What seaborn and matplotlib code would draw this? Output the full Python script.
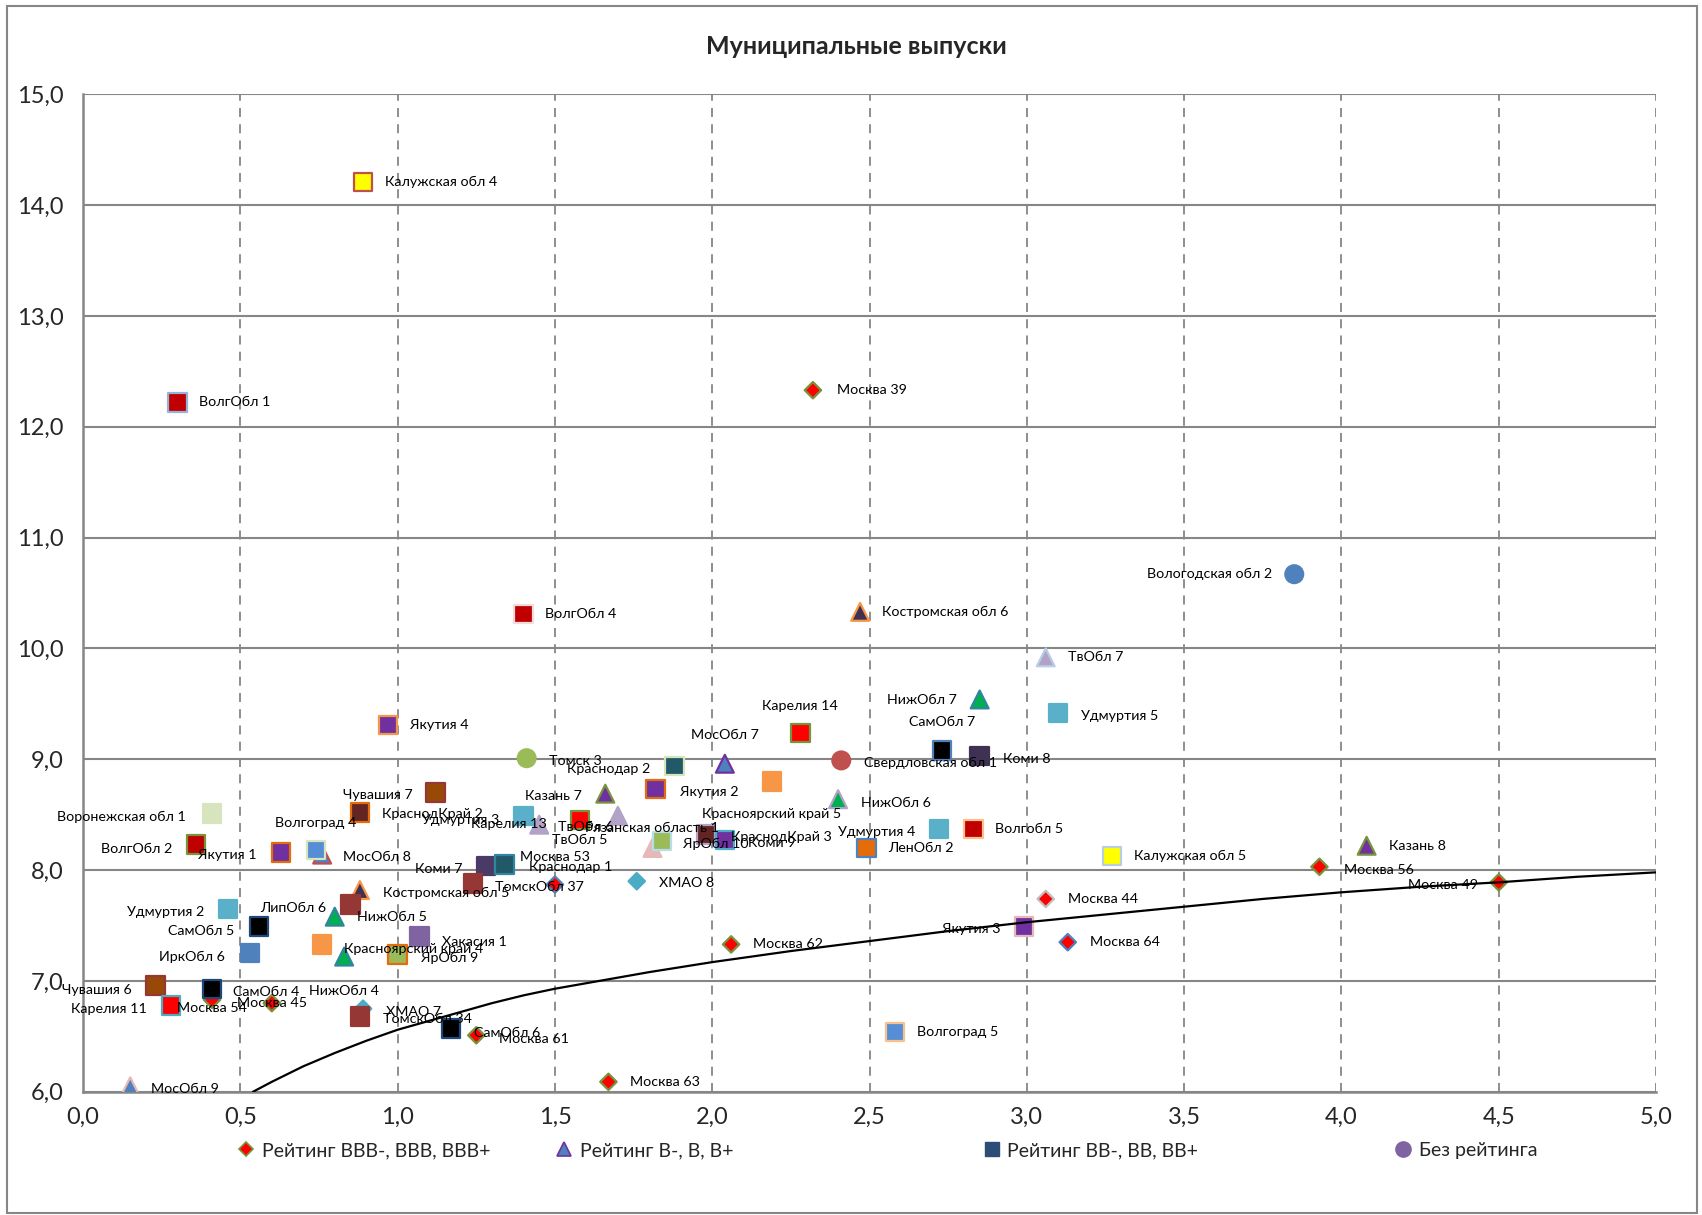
import numpy as np
import matplotlib.pyplot as plt
import matplotlib.ticker as mticker
from matplotlib.lines import Line2D
from matplotlib.patches import Rectangle
import pandas as pd
import seaborn as sns

# Рейтинг BBB-, BBB, BBB+ (ромбы)
bbb_names = ["Москва 39", "Москва 56", "Москва 49", "Москва 44", "Москва 64", "Москва 62",
             "Москва 53", "ХМАО 8", "ХМАО 7", "Москва 45", "Москва 54", "Москва 61", "Москва 63"]
bbb_x = [2.32, 3.93, 4.50, 3.06, 3.13, 2.06, 1.50, 1.76, 0.89, 0.60, 0.41, 1.25, 1.67]
bbb_y = [12.33, 8.03, 7.89, 7.74, 7.35, 7.33, 7.87, 7.90, 6.75, 6.80, 6.83, 6.51, 6.09]

# Рейтинг B-, B, B+ (треугольники)
b_names = ["Костромская обл 6", "ТвОбл 7", "НижОбл 7", "МосОбл 7", "НижОбл 6", "Казань 7",
           "ТвОбл 6", "Карелия 13", "Рязанская область 1", "МосОбл 8", "Костромская обл 5",
           "НижОбл 5", "НижОбл 4", "Казань 8", "МосОбл 9"]
b_x = [2.47, 3.06, 2.85, 2.04, 2.40, 1.66, 1.70, 1.45, 1.81, 0.76, 0.88, 0.80, 0.83, 4.08, 0.15]
b_y = [10.33, 9.92, 9.54, 8.96, 8.64, 8.69, 8.49, 8.41, 8.20, 8.14, 7.82, 7.58, 7.22, 8.22, 6.05]

# Рейтинг BB-, BB, BB+ (квадраты)
bb_names = ["Калужская обл 4", "ВолгОбл 1", "ВолгОбл 4", "Якутия 4", "Карелия 14", "Краснодар 2",
            "Якутия 2", "Красноярский край 5", "СамОбл 7", "Коми 8", "Удмуртия 5", "Удмуртия 4",
            "Волгобл 5", "ЛенОбл 2", "Калужская обл 5", "Волгоград 5", "Якутия 3", "ЯрОбл 10",
            "КраснодКрай 3", "Коми 9", "ТвОбл 5", "Удмуртия 3", "КраснодКрай 2", "Чувашия 7",
            "Воронежская обл 1", "ВолгОбл 2", "Якутия 1", "Волгоград 4", "Коми 7", "Краснодар 1",
            "ТомскОбл 37", "ЛипОбл 6", "Хакасия 1", "ЯрОбл 9", "Красноярский край 4", "Удмуртия 2",
            "СамОбл 5", "ИркОбл 6", "Чувашия 6", "Карелия 11", "СамОбл 4", "ТомскОбл 34", "СамОбл 6"]
bb_x = [0.89, 0.30, 1.40, 0.97, 2.28, 1.88, 1.82, 2.19, 2.73, 2.85, 3.10, 2.72,
        2.83, 2.49, 3.27, 2.58, 2.99, 1.84, 1.98, 2.04, 1.58, 1.40, 0.88, 1.12,
        0.41, 0.36, 0.63, 0.74, 1.28, 1.34, 1.24, 0.85, 1.07, 1.00, 0.76, 0.46,
        0.56, 0.53, 0.23, 0.28, 0.41, 0.88, 1.17]
bb_y = [14.21, 12.22, 10.31, 9.31, 9.24, 8.94, 8.73, 8.80, 9.08, 9.03, 9.42, 8.37,
        8.37, 8.20, 8.13, 6.54, 7.49, 8.26, 8.32, 8.27, 8.45, 8.49, 8.52, 8.70,
        8.51, 8.23, 8.16, 8.18, 8.04, 8.05, 7.88, 7.69, 7.40, 7.24, 7.33, 7.65,
        7.49, 7.25, 6.96, 6.78, 6.93, 6.68, 6.57]

# Без рейтинга (круги)
nr_names = ["Томск 3", "Свердловская обл 1", "Вологодская обл 2"]
nr_x = [1.41, 2.41, 3.85]
nr_y = [9.01, 8.99, 10.67]

# кривая доходности
curve_x = [0.54, 0.60, 0.70, 0.80, 0.90, 1.00, 1.10, 1.20, 1.30, 1.40, 1.50, 1.60, 1.70, 1.80,
           2.00, 2.25, 2.50, 2.75, 3.00, 3.25, 3.50, 3.75, 4.00, 4.25, 4.50, 4.75, 5.00]
curve_y = [6.00, 6.09, 6.23, 6.35, 6.46, 6.56, 6.64, 6.72, 6.80, 6.87, 6.93, 6.98, 7.03, 7.08,
           7.17, 7.27, 7.36, 7.45, 7.53, 7.60, 7.67, 7.74, 7.80, 7.85, 7.89, 7.94, 7.98]

legend_labels = ["Рейтинг BBB-, BBB, BBB+", "Рейтинг B-, B, B+", "Рейтинг BB-, BB, BB+", "Без рейтинга"]

# цвета точек: заливка, обводка
face = {
    "ХМАО 8": "#4BACC6", "ХМАО 7": "#4BACC6",
    "Костромская обл 6": "#403152", "ТвОбл 7": "#B3A2C7", "НижОбл 7": "#00B050", "МосОбл 7": "#4F81BD",
    "НижОбл 6": "#00B050", "Казань 7": "#7030A0", "ТвОбл 6": "#B3A2C7", "Карелия 13": "#B3A2C7",
    "Рязанская область 1": "#E6B9B8", "МосОбл 8": "#4F81BD", "Костромская обл 5": "#403152",
    "НижОбл 5": "#00B050", "НижОбл 4": "#00B050", "Казань 8": "#7030A0", "МосОбл 9": "#4F81BD",
    "Калужская обл 4": "#FFFF00", "ВолгОбл 1": "#C00000", "ВолгОбл 4": "#C00000", "Якутия 4": "#7030A0",
    "Карелия 14": "#FF0000", "Краснодар 2": "#215968", "Якутия 2": "#7030A0",
    "Красноярский край 5": "#F79646", "СамОбл 7": "#000000", "Коми 8": "#3F3151",
    "Удмуртия 5": "#5AB0C8", "Удмуртия 4": "#5AB0C8", "Волгобл 5": "#C00000", "ЛенОбл 2": "#E46C0A",
    "Калужская обл 5": "#FFFF00", "Волгоград 5": "#558ED5", "Якутия 3": "#7030A0", "ЯрОбл 10": "#9BBB59",
    "КраснодКрай 3": "#632523", "Коми 9": "#7030A0", "ТвОбл 5": "#FF0000", "Удмуртия 3": "#5AB0C8",
    "КраснодКрай 2": "#632523", "Чувашия 7": "#984807", "Воронежская обл 1": "#D7E4BD",
    "ВолгОбл 2": "#C00000", "Якутия 1": "#7030A0", "Волгоград 4": "#558ED5", "Коми 7": "#4A3B66",
    "Краснодар 1": "#215968", "ТомскОбл 37": "#953735", "ЛипОбл 6": "#953735", "Хакасия 1": "#8064A2",
    "ЯрОбл 9": "#9BBB59", "Красноярский край 4": "#F79646", "Удмуртия 2": "#5AB0C8",
    "СамОбл 5": "#000000", "ИркОбл 6": "#4F81BD", "Чувашия 6": "#984807", "Карелия 11": "#FF0000",
    "СамОбл 4": "#000000", "ТомскОбл 34": "#953735", "СамОбл 6": "#000000",
    "Томск 3": "#9BBB59", "Свердловская обл 1": "#C0504D", "Вологодская обл 2": "#4F81BD",
}
edge = {
    "Москва 44": "#BFBFBF", "Москва 64": "#4F81BD", "Москва 53": "#4F81BD",
    "ХМАО 8": "#4BACC6", "ХМАО 7": "#4BACC6",
    "Костромская обл 6": "#F79646", "ТвОбл 7": "#B9CDE5", "НижОбл 7": "#31859C", "МосОбл 7": "#7030A0",
    "НижОбл 6": "#B3A2C7", "Казань 7": "#77933C", "МосОбл 8": "#C0504D", "Костромская обл 5": "#F79646",
    "НижОбл 5": "#31859C", "НижОбл 4": "#31859C", "Казань 8": "#77933C", "МосОбл 9": "#E6B9B8",
    "Калужская обл 4": "#C0504D", "ВолгОбл 1": "#95B3D7", "ВолгОбл 4": "#F2DCDB", "Якутия 4": "#F79646",
    "Карелия 14": "#77933C", "Краснодар 2": "#D7E4BD", "Якутия 2": "#E46C0A", "СамОбл 7": "#4F81BD",
    "Волгобл 5": "#FAC090", "ЛенОбл 2": "#4F81BD", "Калужская обл 5": "#B9CDE5", "Волгоград 5": "#FAC090",
    "Якутия 3": "#E6B9B8", "ЯрОбл 10": "#B7DEE8", "КраснодКрай 3": "#B3A2C7", "Коми 9": "#4BACC6",
    "ТвОбл 5": "#77933C", "КраснодКрай 2": "#E46C0A", "Чувашия 7": "#953735", "ВолгОбл 2": "#77933C",
    "Якутия 1": "#E46C0A", "Волгоград 4": "#D7E4BD", "Краснодар 1": "#31859C", "ЯрОбл 9": "#E46C0A",
    "СамОбл 5": "#1F497D", "Чувашия 6": "#953735", "Карелия 11": "#4BACC6", "СамОбл 4": "#1F497D",
    "СамОбл 6": "#1F497D",
}

# положение подписей: сдвиг в пикселях (вправо, вниз) и выравнивание
lab_pos = {
    "Москва 39": (24, 0, "left"), "Москва 49": (-21, 3, "right"), "Москва 56": (25, 3, "left"),
    "Москва 53": (0, -28, "center"), "Москва 54": (0, 8, "center"), "Москва 45": (0, 0, "center"),
    "Москва 61": (23, 4, "left"), "ХМАО 8": (22, 2, "left"), "ХМАО 7": (23, 3, "left"),
    "НижОбл 7": (-23, 1, "right"), "МосОбл 7": (0, -29, "center"), "НижОбл 6": (23, 4, "left"),
    "Казань 7": (-23, 2, "right"), "ТвОбл 6": (-4, 11, "right"), "Карелия 13": (8, -1, "right"),
    "Рязанская область 1": (0, -20, "center"), "МосОбл 8": (21, 2, "left"),
    "Костромская обл 5": (23, 3, "left"), "НижОбл 4": (0, 34, "center"), "МосОбл 9": (21, 3, "left"),
    "Карелия 14": (0, -27, "center"), "Краснодар 2": (-24, 3, "right"), "Якутия 2": (24, 3, "left"),
    "Красноярский край 5": (0, 33, "center"), "Свердловская обл 1": (23, 3, "left"),
    "СамОбл 7": (0, -28, "center"), "Коми 8": (23, 3, "left"), "Удмуртия 5": (23, 3, "left"),
    "Удмуртия 4": (-23, 3, "right"), "Якутия 3": (-23, 2, "right"), "ЯрОбл 10": (21, 3, "left"),
    "КраснодКрай 3": (25, 2, "left"), "Коми 9": (23, 3, "left"), "ТвОбл 5": (0, 20, "center"),
    "Удмуртия 3": (-24, 4, "right"), "КраснодКрай 2": (22, 2, "left"), "Чувашия 7": (-23, 2, "right"),
    "Воронежская обл 1": (-26, 3, "right"), "ВолгОбл 2": (-24, 4, "right"), "Якутия 1": (-25, 3, "right"),
    "Волгоград 4": (0, -27, "center"), "Коми 7": (-23, 3, "right"), "Краснодар 1": (24, 2, "left"),
    "ТомскОбл 37": (22, 4, "left"), "ЛипОбл 6": (-24, 4, "right"), "Хакасия 1": (22, 5, "left"),
    "ЯрОбл 9": (23, 4, "left"), "Красноярский край 4": (22, 5, "left"), "Удмуртия 2": (-24, 3, "right"),
    "СамОбл 5": (-25, 4, "right"), "ИркОбл 6": (-25, 4, "right"), "Чувашия 6": (-24, 5, "right"),
    "Карелия 11": (-24, 4, "right"), "СамОбл 4": (21, 3, "left"), "ТомскОбл 34": (23, 3, "left"),
    "СамОбл 6": (23, 4, "left"), "Томск 3": (22, 3, "left"), "Вологодская обл 2": (-22, 0, "right"),
}

sns.set_theme(style="white")
plt.rcParams['font.family'] = ['Lato', 'DejaVu Sans']

fig = plt.figure(figsize=(17.02, 12.15), dpi=100)
ax = fig.add_axes([0.0488, 0.1014, 0.9242, 0.821])
fig.patches.append(Rectangle((0.004, 0.002), 0.993, 0.993, transform=fig.transFigure,
                             fill=False, edgecolor="#868686", lw=1.5))

grey = "#868686"


def draw(names, xs, ys, marker, size, z):
    df = pd.DataFrame({"x": xs, "y": ys, "name": names})
    sns.scatterplot(data=df, x="x", y="y", hue="name",
                    palette={n: face.get(n, "#FF0000") for n in names},
                    marker=marker, s=size,
                    edgecolor=[edge.get(n, face.get(n, "#77933C")) for n in names],
                    linewidth=1.6, legend=False, zorder=z, ax=ax)
    for n, xv, yv in zip(names, xs, ys):
        dx, dy, ha = lab_pos.get(n, (22, 0, "left"))
        ax.annotate(n, (xv, yv), xytext=(dx, -dy), textcoords="offset pixels",
                    ha=ha, va="center", fontsize=10.3, color="black", zorder=10)


draw(b_names, b_x, b_y, "^", 165, 3)
draw(bbb_names, bbb_x, bbb_y, "D", 70, 4)
draw(bb_names, bb_x, bb_y, "s", 175, 5)
draw(nr_names, nr_x, nr_y, "o", 165, 6)

sns.lineplot(x=curve_x, y=curve_y, color="black", lw=1.6, sort=False, estimator=None, ax=ax, zorder=7)

ax.set_xlim(0, 5)
ax.set_ylim(6, 15)
ax.xaxis.set_major_locator(mticker.MultipleLocator(0.5))
ax.yaxis.set_major_locator(mticker.MultipleLocator(1))
fmt = mticker.FuncFormatter(lambda v, p: f"{v:.1f}".replace(".", ","))
ax.xaxis.set_major_formatter(fmt)
ax.yaxis.set_major_formatter(fmt)
ax.set_xlabel("")
ax.set_ylabel("")
ax.tick_params(axis="both", labelsize=17, length=6, width=1.5, color=grey, direction="out", pad=5)
ax.tick_params(axis="y", pad=8)

for s in ["top", "right"]:
    ax.spines[s].set_visible(False)
for s in ["left", "bottom"]:
    ax.spines[s].set_color(grey)
    ax.spines[s].set_linewidth(1.8)

ax.grid(axis="y", color=grey, lw=1.5, ls="-")
ax.grid(axis="x", color=grey, lw=1.3, ls=(0, (5, 4)))
ax.set_axisbelow(True)

fig.text(0.503, 0.962, "Муниципальные выпуски", ha="center", va="center", fontsize=18, fontweight="bold")

handles = [
    Line2D([], [], ls="", marker="D", ms=7, mfc="#FF0000", mec="#77933C", mew=1.2),
    Line2D([], [], ls="", marker="^", ms=10, mfc="#4F81BD", mec="#7030A0", mew=1.2),
    Line2D([], [], ls="", marker="s", ms=10, mfc="#2C4D75", mec="#2C4D75"),
    Line2D([], [], ls="", marker="o", ms=11, mfc="#8064A2", mec="#8064A2"),
]
leg_x = [0.140, 0.327, 0.578, 0.820]
for h, lab, lx in zip(handles, legend_labels, leg_x):
    fig.legend(handles=[h], labels=[lab], loc="center left", bbox_to_anchor=(lx, 0.053),
               frameon=False, fontsize=14, handlelength=0.8, handletextpad=0.4, borderpad=0,
               borderaxespad=0)

fig.savefig("out.png", dpi=100)
